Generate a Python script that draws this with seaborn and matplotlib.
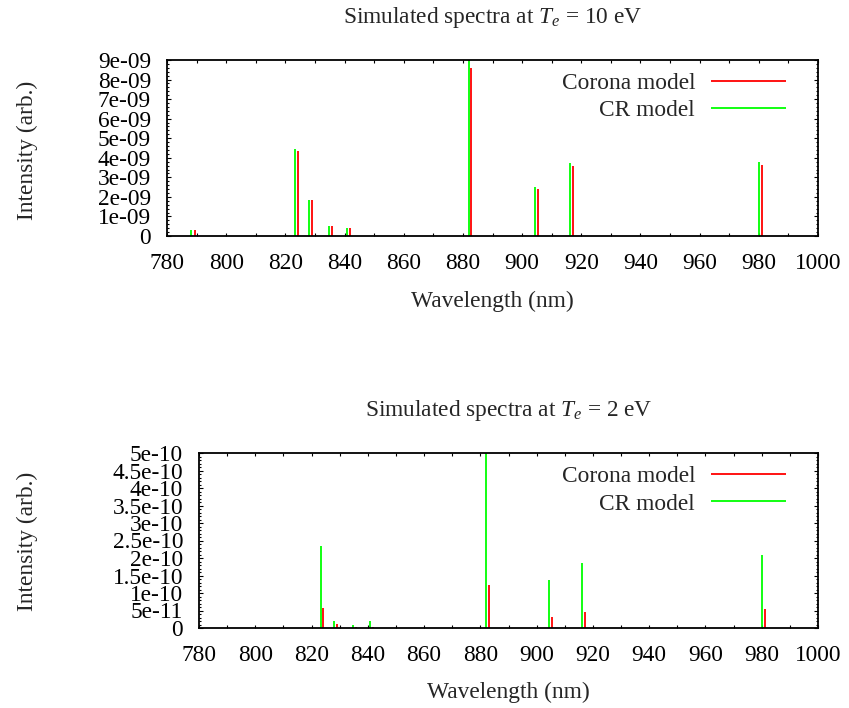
import matplotlib
matplotlib.use("Agg")
import matplotlib.pyplot as plt
import seaborn as sns
from matplotlib.ticker import MultipleLocator, FixedLocator, FixedFormatter

# ---------------- data ----------------
cr_wavelengths = [788.1, 823.2, 828.0, 834.7, 840.9, 881.9, 904.5, 916.3, 980.0]
corona_wavelengths = [789.3, 824.2, 828.9, 835.7, 841.9, 882.9, 905.5, 917.2, 981.0]

cr_10eV = [0.31e-9, 4.45e-9, 1.84e-9, 0.51e-9, 0.43e-9, 9.5e-9, 2.49e-9, 3.72e-9, 3.78e-9]
corona_10eV = [0.30e-9, 4.33e-9, 1.84e-9, 0.50e-9, 0.40e-9, 8.6e-9, 2.39e-9, 3.58e-9, 3.63e-9]

cr_2eV = [0.005e-10, 2.33e-10, 0.19e-10, 0.10e-10, 0.19e-10, 5.5e-10, 1.38e-10, 1.87e-10, 2.10e-10]
corona_2eV = [0.0, 0.57e-10, 0.125e-10, 0.04e-10, 0.03e-10, 1.24e-10, 0.31e-10, 0.45e-10, 0.53e-10]

x_ticks = [780, 800, 820, 840, 860, 880, 900, 920, 940, 960, 980, 1000]
x_ticklabels = ["780", "800", "820", "840", "860", "880", "900", "920", "940", "960", "980", "1000"]

y_ticks_top = [0, 1e-9, 2e-9, 3e-9, 4e-9, 5e-9, 6e-9, 7e-9, 8e-9, 9e-9]
y_ticklabels_top = ["0", "1e-09", "2e-09", "3e-09", "4e-09", "5e-09", "6e-09", "7e-09", "8e-09", "9e-09"]
y_ticks_bot = [0, 0.5e-10, 1e-10, 1.5e-10, 2e-10, 2.5e-10, 3e-10, 3.5e-10, 4e-10, 4.5e-10, 5e-10]
y_ticklabels_bot = ["0", "5e-11", "1e-10", "1.5e-10", "2e-10", "2.5e-10", "3e-10", "3.5e-10",
                    "4e-10", "4.5e-10", "5e-10"]

titles = [r"Simulated spectra at $T_e$ = 10 eV", r"Simulated spectra at $T_e$ = 2 eV"]
series_labels = ["Corona model", "CR model"]

# ---------------- style ----------------
sns.set_theme(style="ticks")
plt.rcParams["font.family"] = ["Liberation Serif", "DejaVu Serif"]
plt.rcParams["mathtext.fontset"] = "custom"
plt.rcParams["mathtext.rm"] = "Liberation Serif"
plt.rcParams["mathtext.it"] = "Liberation Serif:italic"

W, H = 849, 708
fs = 16.8
RED = "#ff0000"
GREEN = "#00ff00"

fig = plt.figure(figsize=(W / 100, H / 100), dpi=100)


def px_rect(left, top, right, bottom):
    return [left / W, 1 - bottom / H, (right - left) / W, (bottom - top) / H]


panels = [
    dict(rect=px_rect(167, 60, 818, 236), cr=cr_10eV, co=corona_10eV, ymax=9e-9,
         yt=y_ticks_top, ytl=y_ticklabels_top, yminor=0.2e-9, title=titles[0],
         title_y=17, xlab_y=301, ylab_y=150, leg_top=73),
    dict(rect=px_rect(199, 453, 818, 628), cr=cr_2eV, co=corona_2eV, ymax=5e-10,
         yt=y_ticks_bot, ytl=y_ticklabels_bot, yminor=0.1e-10, title=titles[1],
         title_y=410, xlab_y=692, ylab_y=541, leg_top=466),
]

for p in panels:
    ax = fig.add_axes(p["rect"])
    ax.vlines(corona_wavelengths, 0, p["co"], colors=RED, linewidth=1.3, label=series_labels[0])
    ax.vlines(cr_wavelengths, 0, p["cr"], colors=GREEN, linewidth=1.3, label=series_labels[1])
    ax.set_xlim(780, 1000)
    ax.set_ylim(0, p["ymax"])

    ax.xaxis.set_major_locator(FixedLocator(x_ticks))
    ax.xaxis.set_major_formatter(FixedFormatter(x_ticklabels))
    ax.xaxis.set_minor_locator(MultipleLocator(10))
    ax.yaxis.set_major_locator(FixedLocator(p["yt"]))
    ax.yaxis.set_major_formatter(FixedFormatter(p["ytl"]))
    ax.yaxis.set_minor_locator(MultipleLocator(p["yminor"]))

    ax.tick_params(axis="both", which="both", direction="in", top=True, right=True,
                   colors="black", labelsize=fs, width=0.8)
    ax.tick_params(axis="x", which="major", length=2.4, pad=12)
    ax.tick_params(axis="x", which="minor", length=2.4)
    ax.tick_params(axis="y", which="major", length=2.6, pad=11.5)
    ax.tick_params(axis="y", which="minor", length=1.5)
    for sp in ax.spines.values():
        sp.set_visible(True)
        sp.set_color("black")
        sp.set_linewidth(1.3)
    ax.grid(False)
    ax.set_facecolor("white")

    cx = p["rect"][0] + p["rect"][2] / 2
    ax.set_xlabel("Wavelength (nm)", fontsize=fs, va="center")
    ax.xaxis.set_label_coords(cx, 1 - p["xlab_y"] / H, transform=fig.transFigure)
    ax.set_ylabel("Intensity (arb.)", fontsize=fs, va="center")
    ax.yaxis.set_label_coords(27 / W, 1 - p["ylab_y"] / H, transform=fig.transFigure)
    fig.text(cx, 1 - p["title_y"] / H, p["title"], fontsize=fs, ha="center", va="center")

    ax.legend(loc="upper right", bbox_to_anchor=(786 / W, 1 - p["leg_top"] / H),
              bbox_transform=fig.transFigure, frameon=False, markerfirst=False,
              fontsize=fs, borderpad=0, borderaxespad=0, handlelength=3.2,
              handletextpad=0.7, labelspacing=0.25)

fig.savefig("out.png", dpi=100, facecolor="white")
